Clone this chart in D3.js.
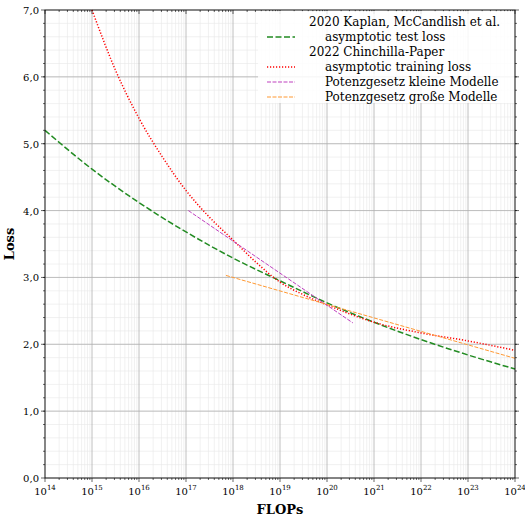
<!DOCTYPE html><html><head><meta charset="utf-8"><script src="https://cdn.jsdelivr.net/npm/d3@7"></script>
<style>body{margin:0;background:#fff}text{font-family:'DejaVu Serif','Liberation Serif',serif}</style></head><body><svg width="525" height="525"></svg>
<script>
const kaplanX=[14,15,16,17,18,19,20,21,22,23,24];
const kaplanY=[5.2,4.62,4.12,3.68,3.29,2.95,2.62,2.33,2.07,1.84,1.63];
const chinX=[15,15.5,16,16.5,17,17.5,18,18.5,19,19.5,20,20.5,21,22,23,24];
const chinY=[7.0,6.1,5.38,4.8,4.3,3.9,3.56,3.22,2.93,2.74,2.59,2.45,2.33,2.17,2.05,1.91];
const smallX=[17.05,20.55];const smallY=[4.0,2.32];
const largeX=[17.85,24];const largeY=[3.03,1.79];
const yTicks=[0,1,2,3,4,5,6,7];
const xTicks=[14,15,16,17,18,19,20,21,22,23,24];
const svg=d3.select("svg");
const L=45,R=515,T=10,B=478;
const x=d3.scaleLinear().domain([14,24]).range([L,R]);
const y=d3.scaleLinear().domain([0,7]).range([B,T]);
const g=svg.append("g");
for(let e=14;e<24;e++)for(let k=2;k<10;k++){const v=e+Math.log10(k);g.append("line").attr("x1",x(v)).attr("x2",x(v)).attr("y1",T).attr("y2",B).attr("stroke","#e8e8e8").attr("stroke-width",0.6);}
for(let v=0;v<7;v+=0.2){g.append("line").attr("x1",L).attr("x2",R).attr("y1",y(v)).attr("y2",y(v)).attr("stroke","#e8e8e8").attr("stroke-width",0.6);}
xTicks.forEach(v=>g.append("line").attr("x1",x(v)).attr("x2",x(v)).attr("y1",T).attr("y2",B).attr("stroke","#b0b0b0").attr("stroke-width",0.8));
yTicks.forEach(v=>g.append("line").attr("x1",L).attr("x2",R).attr("y1",y(v)).attr("y2",y(v)).attr("stroke","#b0b0b0").attr("stroke-width",0.8));
const line=d3.line().x(d=>x(d[0])).y(d=>y(d[1])).curve(d3.curveMonotoneX);
const zip=(a,b)=>a.map((v,i)=>[v,b[i]]);
g.append("path").attr("d",line(zip(kaplanX,kaplanY))).attr("fill","none").attr("stroke","#228b22").attr("stroke-width",1.5).attr("stroke-dasharray","6,2.5");
g.append("path").attr("d",line(zip(chinX,chinY))).attr("fill","none").attr("stroke","#ff0000").attr("stroke-width",1.5).attr("stroke-dasharray","1.2,1.8");
g.append("path").attr("d",line(zip(smallX,smallY))).attr("fill","none").attr("stroke","#bf40bf").attr("stroke-width",1).attr("stroke-dasharray","4,1.5");
g.append("path").attr("d",line(zip(largeX,largeY))).attr("fill","none").attr("stroke","#ff9933").attr("stroke-width",1).attr("stroke-dasharray","4,1.5");
svg.append("rect").attr("x",L).attr("y",T).attr("width",R-L).attr("height",B-T).attr("fill","none").attr("stroke","#000").attr("stroke-width",0.8);
const tk=(x1,y1,x2,y2)=>svg.append("line").attr("x1",x1).attr("y1",y1).attr("x2",x2).attr("y2",y2).attr("stroke","#000").attr("stroke-width",0.6);
xTicks.forEach(v=>{tk(x(v),B,x(v),B+4);tk(x(v),T,x(v),T+4);
 const t=svg.append("text").attr("x",x(v)).attr("y",B+17).attr("text-anchor","middle").attr("font-size",10);
 t.append("tspan").text("10");t.append("tspan").attr("dy",-5).attr("font-size",7).text(v);});
for(let e=14;e<24;e++)for(let k=2;k<10;k++){const v=e+Math.log10(k);tk(x(v),B,x(v),B+2);tk(x(v),T,x(v),T+2);}
yTicks.forEach(v=>{tk(L-4,y(v),L,y(v));tk(R,y(v),R+4,y(v));
 svg.append("text").attr("x",L-6).attr("y",y(v)+4).attr("text-anchor","end").attr("font-size",10).text(v.toFixed(1).replace(".",","));});
for(let v=0.2;v<7;v+=0.2){tk(L-2,y(v),L,y(v));tk(R,y(v),R+2,y(v));}
svg.append("text").attr("x",280).attr("y",514).attr("text-anchor","middle").attr("font-weight","bold").attr("font-size",13).text("FLOPs");
svg.append("text").attr("transform","translate(14,244) rotate(-90)").attr("text-anchor","middle").attr("font-weight","bold").attr("font-size",13).text("Loss");
const lg=svg.append("g");
lg.append("rect").attr("x",258).attr("y",11).attr("width",256).attr("height",92).attr("fill","#fff").attr("opacity",0.85);
const items=[
 {t:"2020 Kaplan, McCandlish et al.",ind:0},{t:"asymptotic test loss",ind:1,c:"#228b22",d:"6,2.5",w:1.5},
 {t:"2022 Chinchilla-Paper",ind:0},{t:"asymptotic training loss",ind:1,c:"#ff0000",d:"1.2,1.8",w:1.5},
 {t:"Potenzgesetz kleine Modelle",ind:1,c:"#bf40bf",d:"4,1.5",w:1},{t:"Potenzgesetz große Modelle",ind:1,c:"#ff9933",d:"4,1.5",w:1}];
items.forEach((it,i)=>{const yy=22+i*15;
 lg.append("text").attr("x",it.ind?325:309).attr("y",yy+4).attr("font-size",12).text(it.t);
 if(it.c)lg.append("line").attr("x1",267).attr("x2",295).attr("y1",yy).attr("y2",yy).attr("stroke",it.c).attr("stroke-width",it.w).attr("stroke-dasharray",it.d);});
</script></body></html>
